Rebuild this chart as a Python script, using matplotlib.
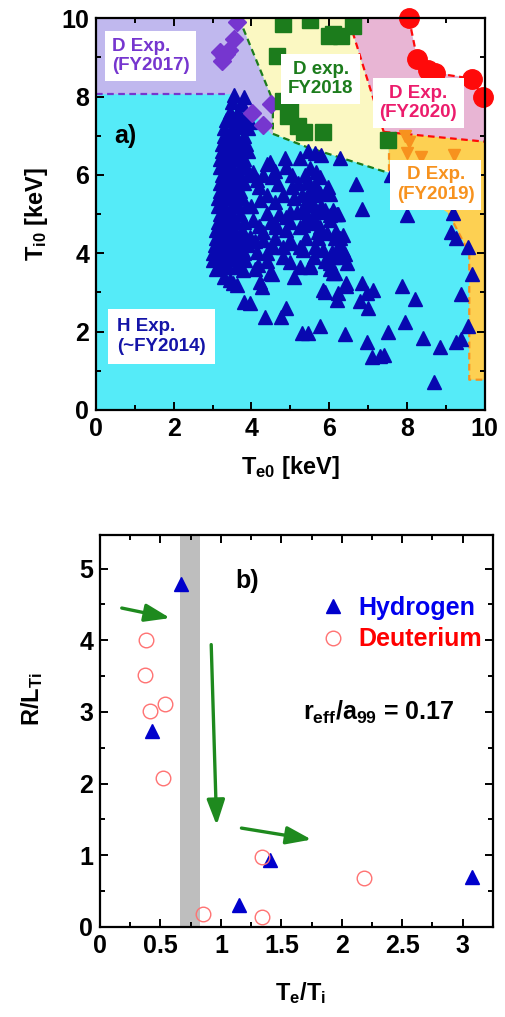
import matplotlib
matplotlib.use("Agg")
import matplotlib.pyplot as plt
from matplotlib.ticker import MultipleLocator

plt.rcParams['font.family'] = ['Liberation Sans', 'DejaVu Sans']
plt.rcParams['font.weight'] = 'bold'
plt.rcParams['mathtext.fontset'] = 'custom'
plt.rcParams['mathtext.bf'] = 'Liberation Sans:bold'
plt.rcParams['mathtext.rm'] = 'Liberation Sans:bold'
plt.rcParams['mathtext.it'] = 'Liberation Sans:bold'

# ---------------- panel a) data ----------------
# H experiments (~FY2014): Te0, Ti0 [keV]
H_pts = [
    # dense column
    (3.55, 8.05), (3.8, 8.0), (3.5, 7.85), (3.75, 7.82),
    (3.45, 7.6), (3.65, 7.6), (3.85, 7.55),
    (3.35, 7.4), (3.55, 7.42), (3.75, 7.4), (3.95, 7.35),
    (3.3, 7.2), (3.5, 7.2), (3.7, 7.22), (3.9, 7.2),
    (3.3, 7.0), (3.45, 7.0), (3.6, 7.0), (3.8, 7.0),
    (3.25, 6.8), (3.4, 6.8), (3.55, 6.8), (3.7, 6.8), (3.85, 6.8),
    (3.25, 6.6), (3.4, 6.6), (3.55, 6.6), (3.7, 6.6), (3.9, 6.6),
    (3.2, 6.4), (3.35, 6.4), (3.5, 6.4), (3.65, 6.4), (3.8, 6.4),
    (3.2, 6.2), (3.35, 6.2), (3.5, 6.2), (3.7, 6.2), (3.85, 6.2),
    (3.25, 6.0), (3.4, 6.0), (3.55, 6.0), (3.7, 6.0), (3.9, 6.0),
    (3.2, 5.8), (3.35, 5.8), (3.5, 5.8), (3.65, 5.8), (3.8, 5.8),
    (3.2, 5.6), (3.35, 5.6), (3.5, 5.6), (3.7, 5.6),
    (3.15, 5.4), (3.3, 5.4), (3.45, 5.4), (3.6, 5.4), (3.75, 5.4),
    (3.15, 5.2), (3.3, 5.2), (3.5, 5.2), (3.65, 5.2), (3.85, 5.2),
    (3.2, 5.0), (3.35, 5.0), (3.5, 5.0), (3.7, 5.0),
    (3.15, 4.8), (3.3, 4.8), (3.45, 4.8), (3.6, 4.8), (3.8, 4.8),
    (3.1, 4.6), (3.25, 4.6), (3.4, 4.6), (3.55, 4.6), (3.75, 4.6),
    (3.1, 4.4), (3.25, 4.4), (3.4, 4.4), (3.6, 4.4), (3.8, 4.4),
    (3.05, 4.2), (3.2, 4.2), (3.35, 4.2), (3.5, 4.2), (3.7, 4.2), (3.9, 4.2),
    (3.0, 4.0), (3.15, 4.0), (3.3, 4.0), (3.45, 4.0), (3.6, 4.0), (3.8, 4.0),
    (3.02, 3.83), (3.2, 3.85), (3.35, 3.85), (3.55, 3.85), (3.7, 3.85),
    (3.1, 3.61), (3.25, 3.65), (3.4, 3.65), (3.6, 3.65),
    (3.29, 3.40), (3.45, 3.32), (3.62, 3.19), (3.79, 3.57), (3.53, 3.23),
    # main cluster
    (4.86, 6.42), (5.24, 6.42), (5.45, 6.6), (5.63, 6.55), (5.8, 6.5),
    (4.47, 6.34), (4.39, 6.29), (6.27, 6.42), (5.5, 6.17), (5.67, 6.08),
    (5.76, 5.95), (5.37, 5.99), (5.42, 5.82), (5.63, 5.78),
    (4.04, 6.08), (4.13, 5.87), (4.52, 5.95), (4.69, 5.78), (5.03, 5.99),
    (5.03, 5.70), (5.5, 5.61), (5.76, 5.53), (5.97, 5.70), (5.93, 5.61),
    (6.01, 5.52), (6.68, 5.78), (4.22, 5.36), (4.39, 5.02), (4.9, 4.93),
    (5.16, 5.06), (4.04, 4.85), (4.64, 4.68), (5.24, 4.68), (5.5, 4.76),
    (4.30, 4.55), (3.97, 4.42), (5.93, 4.51), (6.01, 4.85), (4.99, 4.34),
    (4.81, 4.17), (5.24, 4.17), (5.63, 4.17), (4.39, 4.0), (4.17, 3.70),
    (4.47, 3.49), (5.5, 3.66), (3.83, 3.83),
    (5.42, 5.36), (5.5, 5.27), (5.59, 5.23), (5.72, 5.06), (5.89, 5.1),
    (6.1, 5.1), (6.19, 5.01), (5.33, 5.1), (5.46, 4.93), (5.67, 4.8),
    (5.72, 4.55), (6.83, 5.14), (6.32, 3.91), (6.45, 3.74), (6.36, 4.08),
    (6.19, 4.12), (6.27, 4.38), (6.36, 4.46), (6.19, 4.5), (6.06, 4.03),
    (6.01, 3.74), (6.1, 3.49), (6.14, 4.4), (6.14, 5.01), (6.23, 5.01),
    (4.99, 5.06), (5.33, 5.14), (5.67, 5.10), (6.02, 4.97), (4.64, 4.72),
    (4.9, 4.59), (5.33, 4.72), (5.76, 4.68), (6.14, 4.51), (4.3, 4.34),
    (4.56, 4.17), (4.99, 4.25), (5.33, 4.08), (5.84, 4.08), (6.27, 4.12),
    (6.4, 3.99), (6.1, 3.91), (4.13, 4.04), (4.99, 3.78), (5.24, 3.66),
    (5.5, 3.70), (6.02, 3.61), (6.14, 3.49),
    (4.2, 5.7), (4.4, 5.5), (4.6, 5.3), (4.8, 5.5), (4.3, 6.0), (4.6, 6.1),
    (4.9, 6.2), (5.1, 5.4), (4.7, 5.0), (4.5, 4.8), (4.2, 4.7), (4.0, 5.2),
    (4.1, 4.3), (4.6, 4.4), (5.0, 4.8), (5.3, 5.5), (5.2, 5.8), (5.6, 5.5),
    (5.8, 5.2), (5.4, 4.4), (5.7, 4.4), (5.6, 3.9), (5.9, 3.8), (4.8, 3.9),
    (4.4, 3.8), (4.1, 3.6), (5.1, 3.4),
    # sparse points
    (7.99, 4.97), (9.19, 5.02), (9.14, 4.55), (9.27, 4.38), (9.57, 4.15),
    (9.68, 3.47), (9.38, 2.96), (9.57, 2.14), (9.27, 1.74), (9.4, 1.8),
    (8.84, 1.6), (8.41, 1.83), (8.7, 0.70), (7.94, 2.25), (7.52, 2.0),
    (8.2, 2.82), (7.86, 3.16), (6.96, 1.74), (7.11, 1.36), (7.3, 1.37),
    (7.41, 1.40), (6.4, 1.93), (5.76, 2.15), (5.46, 1.97), (5.29, 1.96),
    (7.0, 2.59), (6.79, 2.79), (6.83, 3.23), (7.13, 3.06), (6.96, 2.98),
    (6.44, 3.16), (6.23, 2.98), (6.19, 2.81), (5.89, 3.02), (6.44, 3.23),
    (5.84, 3.06), (4.88, 2.59), (4.77, 2.38), (4.34, 2.38), (3.96, 2.72),
    (3.81, 2.76), (4.52, 3.48), (4.22, 3.27), (4.26, 3.15), (7.6, 6.0),
]
H_Te0 = [p[0] for p in H_pts]
H_Ti0 = [p[1] for p in H_pts]

# D experiments FY2017 (diamonds)
D17_Te0 = [3.62, 3.55, 3.2, 3.42, 3.3, 3.25, 3.35, 4.02, 4.3, 4.5]
D17_Ti0 = [9.9, 9.48, 9.15, 9.2, 9.05, 8.9, 9.1, 7.57, 7.27, 7.8]

# D experiments FY2018 (squares)
D18_Te0 = [4.8, 5.5, 6.0, 6.3, 6.6, 6.1, 4.65, 4.8, 4.95, 5.0, 5.2, 5.35, 5.85, 7.5]
D18_Ti0 = [9.85, 9.95, 9.55, 9.55, 9.8, 9.6, 9.05, 7.9, 7.5, 7.62, 7.25, 7.1, 7.1, 6.9]

# D experiments FY2019 (down triangles)
D19_Te0 = [7.95, 8.05, 8.0, 8.35, 9.2]
D19_Ti0 = [7.0, 6.85, 6.55, 6.45, 6.5]

# D experiments FY2020 (circles)
D20_Te0 = [8.05, 8.26, 8.55, 8.72, 9.66, 9.95]
D20_Ti0 = [10.0, 8.97, 8.67, 8.6, 8.46, 7.98]

# region boundaries (Te0, Ti0)
purple_poly = [(0, 8.06), (3.6, 8.06), (4.55, 7.0), (4.55, 7.9), (3.68, 10), (0, 10)]
yellow_poly = [(3.68, 10), (6.55, 10), (6.6, 9.65), (7.4, 7.1), (7.53, 7.05),
               (7.53, 6.06), (5.4, 6.72), (4.55, 7.05), (4.55, 7.9)]
pink_poly = [(6.55, 10), (8.05, 10), (8.26, 8.97), (8.6, 8.65), (9.66, 8.46),
             (10, 7.9), (10, 6.85), (7.4, 7.1), (6.6, 9.65)]
white_poly = [(8.05, 10), (10, 10), (10, 7.9), (9.66, 8.46), (8.6, 8.65), (8.26, 8.97)]
orange_poly = [(7.4, 7.1), (10, 6.85), (10, 0.77), (9.6, 0.77), (9.6, 4.0),
               (9.07, 5.02), (7.53, 6.06), (7.53, 7.05)]
purple_line = [(0, 8.06), (3.4, 8.06)]
green_line = [(3.68, 10), (4.55, 7.9), (4.55, 7.05), (5.4, 6.72), (7.5, 6.06)]
red_line_left = [(6.6, 9.65), (7.4, 7.1)]
red_line_bottom = [(7.4, 7.1), (10, 6.85)]
orange_line_v = [(7.53, 6.85), (7.53, 6.06)]
orange_line_r = [(9.07, 5.02), (9.6, 4.0), (9.6, 0.77), (10, 0.77)]

# ---------------- panel b) data ----------------
H_ratio = [0.67, 0.43, 1.41, 1.15, 3.08]
H_RLTi = [4.78, 2.74, 0.93, 0.31, 0.70]
D_ratio = [0.38, 0.37, 0.41, 0.54, 0.52, 1.34, 2.18, 0.85, 1.34]
D_RLTi = [4.01, 3.52, 3.02, 3.11, 2.08, 0.97, 0.68, 0.18, 0.14]
band = (0.66, 0.83)
arrows = [((0.18, 4.45), (0.58, 4.31)),
          ((0.92, 3.94), (0.965, 1.42)),
          ((1.17, 1.38), (1.75, 1.22))]

# colours
C_CYAN = '#55ebf8'
C_PURPLE_BG = '#c0b8ee'
C_YELLOW_BG = '#fbf8c2'
C_PINK_BG = '#e8b5d4'
C_ORANGE_BG = '#fdd052'
C_BLUE = '#0808b0'
C_PURPLE = '#7636cf'
C_GREEN = '#1c7c1c'
C_RED = '#ff0a0a'
C_ORANGE = '#f7921e'
C_PINKTXT = '#ec1c6c'
C_ARROW = '#1e8a1e'

fig = plt.figure(figsize=(5.05, 10.17), dpi=100)
ax1 = fig.add_axes([0.190, 0.597, 0.770, 0.385])
ax2 = fig.add_axes([0.198, 0.0885, 0.778, 0.3855])

def poly(ax, pts, color, z=0):
    xs = [p[0] for p in pts]
    ys = [p[1] for p in pts]
    ax.fill(xs, ys, color=color, lw=0, zorder=z)

def dline(ax, pts, color):
    xs = [p[0] for p in pts]
    ys = [p[1] for p in pts]
    ax.plot(xs, ys, ls=(0, (3, 2)), color=color, lw=1.6, zorder=2)

ax1.set_facecolor(C_CYAN)
poly(ax1, purple_poly, C_PURPLE_BG)
poly(ax1, yellow_poly, C_YELLOW_BG)
poly(ax1, pink_poly, C_PINK_BG)
poly(ax1, white_poly, 'white')
poly(ax1, orange_poly, C_ORANGE_BG)
dline(ax1, purple_line, C_PURPLE)
dline(ax1, green_line, C_GREEN)
dline(ax1, red_line_left, C_RED)
dline(ax1, red_line_bottom, C_RED)
dline(ax1, orange_line_v, C_ORANGE)
dline(ax1, orange_line_r, C_ORANGE)

ax1.plot(H_Te0, H_Ti0, ls='none', marker='^', ms=10, color=C_BLUE, mec=C_BLUE, zorder=3)
ax1.plot(D17_Te0, D17_Ti0, ls='none', marker='D', ms=9, color=C_PURPLE, zorder=4)
ax1.plot(D18_Te0, D18_Ti0, ls='none', marker='s', ms=11, color=C_GREEN, zorder=4)
ax1.plot(D19_Te0, D19_Ti0, ls='none', marker='v', ms=9, color=C_ORANGE, zorder=4)
ax1.plot(D20_Te0, D20_Ti0, ls=(0, (3, 2)), lw=1.6, marker='o', ms=14,
         color=C_RED, mec=C_RED, zorder=4, clip_on=False)

box = dict(facecolor='white', edgecolor='none', boxstyle='square,pad=0.35')
LBL = 13.5
ax1.text(0.41, 9.04, 'D Exp.\n(FY2017)', color=C_PURPLE, fontsize=LBL, ha='left',
         va='center', bbox=box, zorder=6, linespacing=1.2)
ax1.text(5.78, 8.45, 'D exp.\nFY2018', color=C_GREEN, fontsize=LBL, ha='center',
         va='center', bbox=box, zorder=6, linespacing=1.2)
ax1.text(8.29, 7.84, 'D Exp.\n(FY2020)', color=C_PINKTXT, fontsize=LBL, ha='center',
         va='center', bbox=box, zorder=6, linespacing=1.2)
ax1.text(8.74, 5.75, 'D Exp.\n(FY2019)', color=C_ORANGE, fontsize=LBL, ha='center',
         va='center', bbox=box, zorder=6, linespacing=1.2)
ax1.text(0.55, 1.87, 'H Exp.\n(~FY2014)', color='#1414a8', fontsize=LBL, ha='left',
         va='center', bbox=dict(facecolor='white', edgecolor='none',
                                boxstyle='square,pad=0.5'),
         zorder=6, linespacing=1.2)
ax1.text(0.75, 7.0, 'a)', color='black', fontsize=18, ha='center', va='center', zorder=6)

ax1.set_xlim(0, 10)
ax1.set_ylim(0, 10)
ax1.xaxis.set_major_locator(MultipleLocator(2))
ax1.xaxis.set_minor_locator(MultipleLocator(1))
ax1.yaxis.set_major_locator(MultipleLocator(2))
ax1.yaxis.set_minor_locator(MultipleLocator(1))
ax1.set_xlabel(r'$\mathbf{T_{e0}}$ [keV]', fontsize=17, fontweight='bold')
ax1.set_ylabel(r'$\mathbf{T_{i0}}$ [keV]', fontsize=17, fontweight='bold')
ax1.xaxis.set_label_coords(0.5, -0.112)
ax1.yaxis.set_label_coords(-0.118, 0.5)

# ---------------- panel b) ----------------
ax2.axvspan(band[0], band[1], color='#bebebe', lw=0, zorder=0)
ax2.plot(H_ratio, H_RLTi, ls='none', marker='^', ms=10, color='#0000cc', zorder=3,
         label='Hydrogen')
ax2.plot(D_ratio, D_RLTi, ls='none', marker='o', ms=10.5, mfc='none', mec='#ff7272',
         mew=1.0, zorder=4, label='Deuterium')
for tail, tip in arrows:
    ax2.annotate('', xy=tip, xytext=tail,
                 arrowprops=dict(arrowstyle='-|>,head_length=0.9,head_width=0.32',
                                 color=C_ARROW, lw=2.4, mutation_scale=17,
                                 shrinkA=0, shrinkB=0), zorder=5)
ax2.text(1.22, 4.83, 'b)', fontsize=18, ha='center', va='center')
ax2.text(1.68, 3.0, r'$\mathbf{r_{eff}/a_{99}}$ = 0.17', fontsize=18, ha='left', va='center')
leg = ax2.legend(loc='upper left', bbox_to_anchor=(0.54, 0.87), frameon=False,
                 fontsize=18, handlelength=0.9, handletextpad=0.55, labelspacing=0.3,
                 borderaxespad=0)
leg.get_texts()[0].set_color('#0000ee')
leg.get_texts()[1].set_color('#ff0000')

ax2.set_xlim(0, 3.25)
ax2.set_ylim(0, 5.47)
ax2.xaxis.set_minor_locator(MultipleLocator(0.25))
ax2.yaxis.set_major_locator(MultipleLocator(1))
ax2.yaxis.set_minor_locator(MultipleLocator(0.5))
ax2.set_xticks([0, 0.5, 1, 1.5, 2, 2.5, 3])
ax2.set_xticklabels(['0', '0.5', '1', '1.5', '2', '2.5', '3'])
ax2.set_xlabel(r'$\mathbf{T_e/T_i}$', fontsize=17)
ax2.set_ylabel(r'$\mathbf{R/L_{Ti}}$', fontsize=17)
ax2.xaxis.set_label_coords(0.51, -0.135)
ax2.yaxis.set_label_coords(-0.14, 0.58)

for ax in (ax1, ax2):
    for s in ax.spines.values():
        s.set_linewidth(1.6)
        s.set_zorder(10)
    ax.tick_params(which='both', direction='in', top=True, right=True, width=1.4,
                   labelsize=18, pad=5)
    ax.tick_params(which='major', length=6)
    ax.tick_params(which='minor', length=3.5)
    for lab in ax.get_xticklabels() + ax.get_yticklabels():
        lab.set_fontweight('bold')

fig.savefig('out.png', dpi=100)
